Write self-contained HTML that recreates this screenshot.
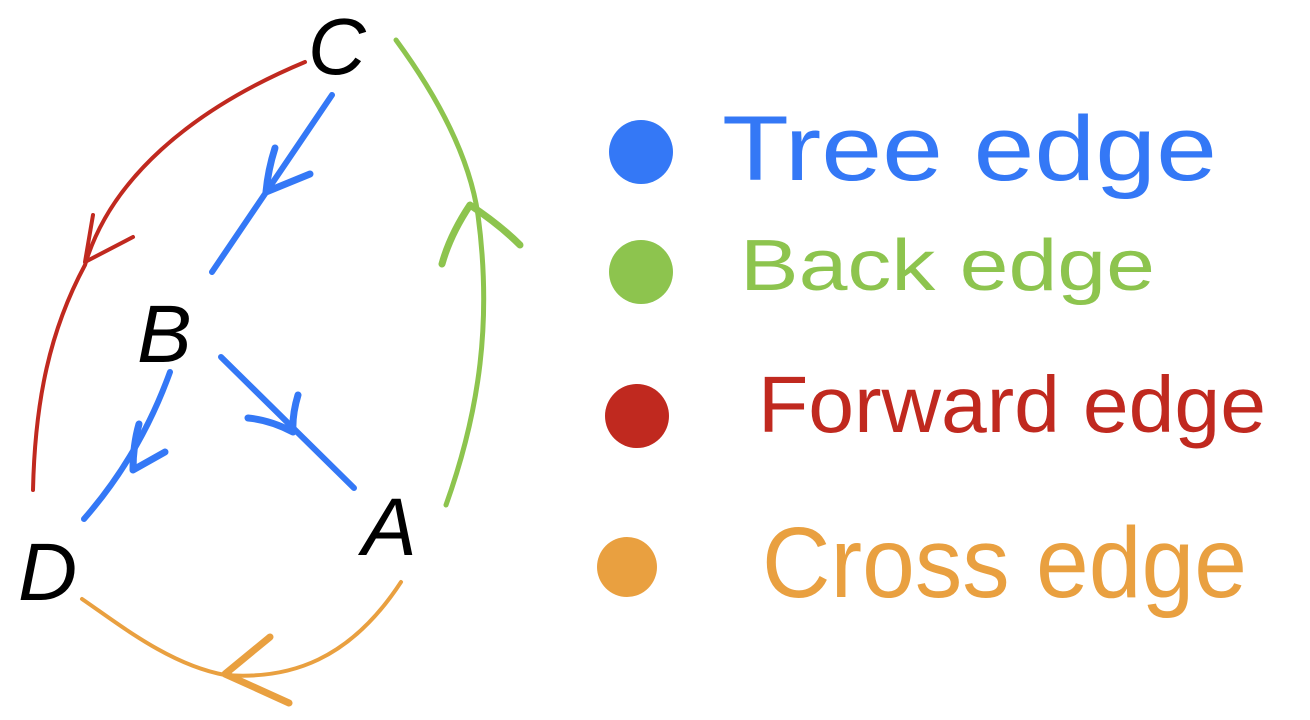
<!DOCTYPE html>
<html><head><meta charset="utf-8"><style>
html,body{margin:0;padding:0;background:#fff;}
svg{display:block;}
</style></head><body>
<svg width="1310" height="720" viewBox="0 0 1310 720" xmlns="http://www.w3.org/2000/svg">
<g fill="none" stroke-linecap="round" stroke-linejoin="round">
<!-- red forward edge -->
<path d="M305,62 C190,110 110,180 85,265 C50,330 35,400 33,490" stroke="#C0291F" stroke-width="4"/>
<path d="M93,215 L85,262 L133,237" stroke="#C0291F" stroke-width="4"/>
<!-- blue C->B -->
<path d="M332,95 L212,272" stroke="#3478F6" stroke-width="6"/>
<path d="M275,148 Q268,170 266,192 L310,174" stroke="#3478F6" stroke-width="7"/>
<!-- blue B->D -->
<path d="M170,372 Q140,455 84,519" stroke="#3478F6" stroke-width="6"/>
<path d="M139,424 Q133,445 133,470 L165,452" stroke="#3478F6" stroke-width="7"/>
<!-- blue B->A -->
<path d="M221,357 L354,488" stroke="#3478F6" stroke-width="6"/>
<path d="M298,395 Q292,415 293,432 Q270,420 248,418" stroke="#3478F6" stroke-width="7"/>
<!-- green back edge -->
<path d="M396,40 C440,100 470,160 478,215 C492,320 480,410 446,505" stroke="#8DC44E" stroke-width="5"/>
<path d="M442,264 Q450,235 470,205 Q500,225 520,245" stroke="#8DC44E" stroke-width="7"/>
<!-- orange cross edge -->
<path d="M401,582 C350,660 290,680 225,675 C170,665 120,625 82,599" stroke="#E9A040" stroke-width="4"/>
<path d="M270,637 L225,674 L289,703" stroke="#E9A040" stroke-width="7"/>
</g>
<g font-family="'Liberation Sans', sans-serif" font-style="italic" fill="#000">
<text x="308" y="74" font-size="80">C</text>
<text x="137" y="362" font-size="82">B</text>
<text x="18" y="600" font-size="82">D</text>
<text x="362" y="555" font-size="82">A</text>
</g>
<circle cx="641" cy="152" r="32" fill="#3478F6"/>
<circle cx="641" cy="272" r="32" fill="#8DC44E"/>
<circle cx="637" cy="416" r="32" fill="#C0291F"/>
<circle cx="627" cy="567" r="30" fill="#E9A040"/>
<g font-family="'Liberation Sans', sans-serif">
<text x="722" y="180" font-size="92" fill="#3478F6" textLength="495" lengthAdjust="spacingAndGlyphs">Tree  edge</text>
<text x="740" y="290" font-size="72" fill="#8DC44E" textLength="415" lengthAdjust="spacingAndGlyphs">Back  edge</text>
<text x="758" y="432" font-size="80" fill="#C0291F" textLength="508" lengthAdjust="spacingAndGlyphs">Forward  edge</text>
<text x="762" y="597" font-size="100" fill="#E9A040" textLength="485" lengthAdjust="spacingAndGlyphs">Cross  edge</text>
</g>
</svg>
</body></html>
